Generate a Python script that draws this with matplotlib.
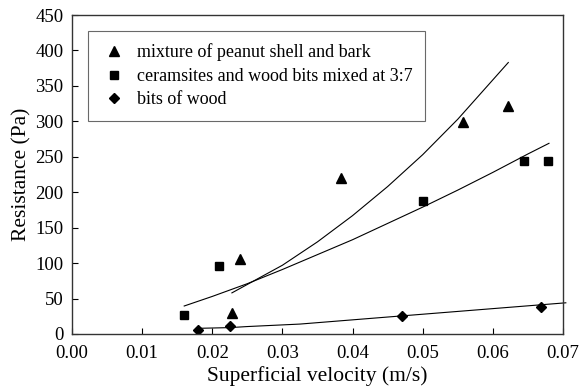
import matplotlib
matplotlib.use("Agg")
import matplotlib.pyplot as plt

plt.rcParams['font.family'] = ['Liberation Serif', 'DejaVu Serif']

# Measured data
tri_x = [0.0228, 0.0240, 0.0383, 0.0557, 0.0622]
tri_y = [30, 106, 220, 299, 321]
sq_x = [0.0160, 0.0209, 0.0501, 0.0645, 0.0679]
sq_y = [27, 96, 188, 244, 244]
dia_x = [0.0179, 0.0225, 0.0471, 0.0668]
dia_y = [5.6, 11.7, 25, 37.6]

# Trend curves
tri_fit_x = [0.0228, 0.030, 0.035, 0.040, 0.045, 0.050, 0.055, 0.0622]
tri_fit_y = [58, 97, 130, 167, 208, 253, 303, 383]
sq_fit_x = [0.016, 0.020, 0.025, 0.030, 0.035, 0.040, 0.045, 0.050, 0.055, 0.060, 0.065, 0.068]
sq_fit_y = [39.5, 53, 71, 91, 112, 133, 156, 179, 203, 228, 254, 269]
dia_fit_x = [0.018, 0.0225, 0.025, 0.0325, 0.0471, 0.060, 0.0704]
dia_fit_y = [8, 9, 10.5, 14, 25.6, 35.8, 44]

labels = ["mixture of peanut shell and bark",
          "ceramsites and wood bits mixed at 3:7",
          "bits of wood"]
xticks = [0.00, 0.01, 0.02, 0.03, 0.04, 0.05, 0.06, 0.07]
yticks = [0, 50, 100, 150, 200, 250, 300, 350, 400, 450]

fig = plt.figure(figsize=(5.88, 3.89), dpi=100)
ax = fig.add_axes([0.1224, 0.1414, 0.8351, 0.8200])

lw = 0.8
ax.plot(tri_fit_x, tri_fit_y, color='black', lw=lw)
ax.plot(sq_fit_x, sq_fit_y, color='black', lw=lw)
ax.plot(dia_fit_x, dia_fit_y, color='black', lw=lw, clip_on=False)

ax.plot(tri_x, tri_y, linestyle='none', marker='^', color='black', ms=7, label=labels[0])
ax.plot(sq_x, sq_y, linestyle='none', marker='s', color='black', ms=6, label=labels[1])
ax.plot(dia_x, dia_y, linestyle='none', marker='D', color='black', ms=5.5, label=labels[2])

ax.set_xlim(0, 0.07)
ax.set_ylim(0, 450)
ax.set_xticks(xticks)
ax.set_xticklabels([f"{v:.2f}" for v in xticks])
ax.set_yticks(yticks)
ax.tick_params(direction='in', length=4, width=0.8, labelsize=13.5, colors='black')
ax.tick_params(axis='x', pad=8)
ax.tick_params(axis='y', pad=6)
for s in ax.spines.values():
    s.set_linewidth(1.0)
    s.set_color('#333333')

ax.set_xlabel("Superficial velocity (m/s)", fontsize=15.5, labelpad=3)
ax.set_ylabel("Resistance (Pa)", fontsize=15.5, labelpad=3)

leg = ax.legend(loc='upper left', bbox_to_anchor=(0.0326, 0.95), fontsize=13.0,
                frameon=True, fancybox=False, edgecolor='#444444',
                handletextpad=0.5, borderpad=0.7, labelspacing=0.36,
                handlelength=1.5, borderaxespad=0)
leg.get_frame().set_linewidth(0.8)

fig.savefig("out.png", dpi=100)
